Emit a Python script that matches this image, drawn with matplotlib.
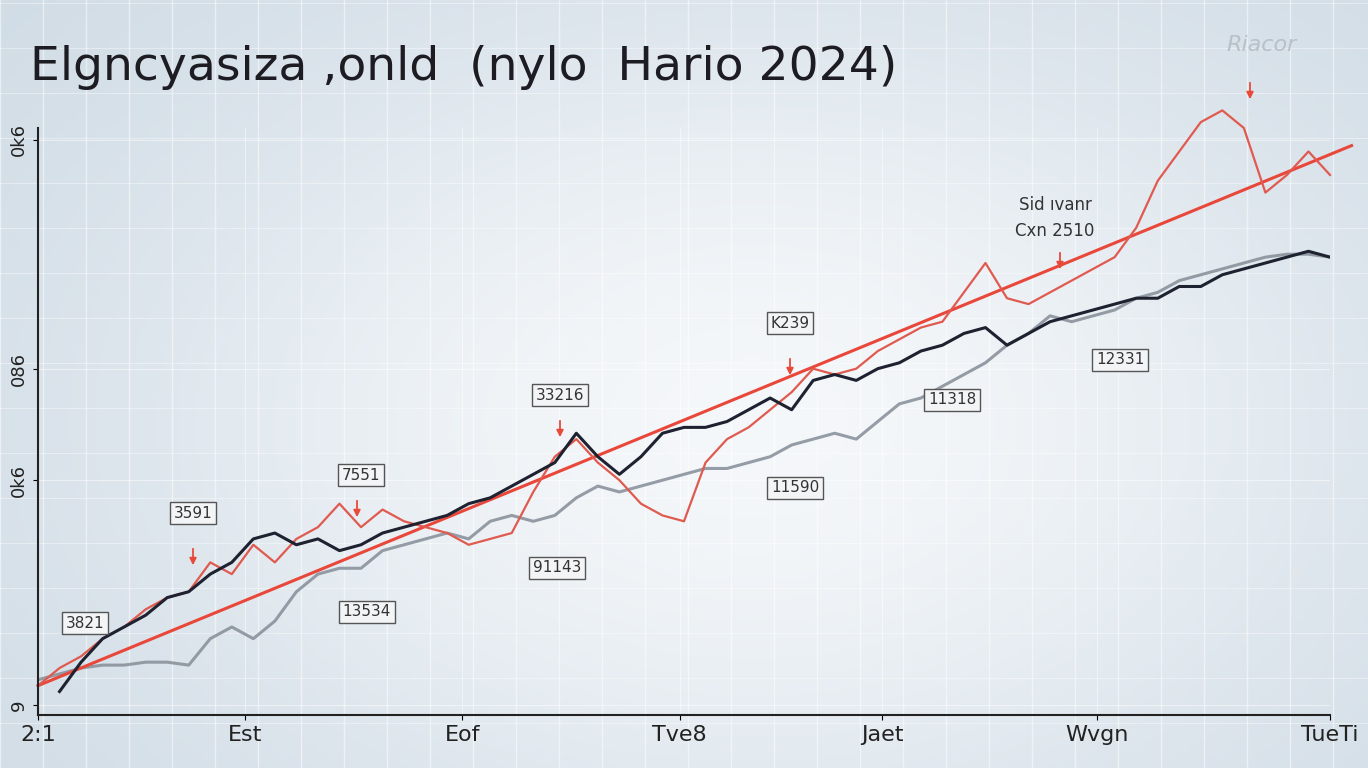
import numpy as np
import matplotlib
matplotlib.use("Agg")
import matplotlib.pyplot as plt

x_ticks_pos = [0, 9.6, 19.7, 29.8, 39.2, 49.2, 60]
x_tick_labels = ["2:1", "Est", "Eof", "Tve8", "Jaet", "Wvgn", "TueTi"]
y_ticks_pos = [1.7, 40, 59, 98]
y_tick_labels = ["9", "0k6", "086", "0k6"]

red = [5, 8, 10, 13, 15, 18, 20, 21, 26, 24, 29, 26, 30, 32, 36, 32, 35, 33, 32, 31,
       29, 30, 31, 38, 44, 47, 43, 40, 36, 34, 33, 43, 47, 49, 52, 55, 59, 58, 59, 62,
       64, 66, 67, 72, 77, 71, 70, 72, 74, 76, 78, 83, 91, 96, 101, 103, 100, 89, 92, 96, 92]
black = [np.nan, 4, 9, 13, 15, 17, 20, 21, 24, 26, 30, 31, 29, 30, 28, 29, 31, 32, 33, 34,
         36, 37, 39, 41, 43, 48, 44, 41, 44, 48, 49, 49, 50, 52, 54, 52, 57, 58, 57, 59,
         60, 62, 63, 65, 66, 63, 65, 67, 68, 69, 70, 71, 71, 73, 73, 75, 76, 77, 78, 79, 78]
gray = [6, 7, 8, 8.5, 8.5, 9, 9, 8.5, 13, 15, 13, 16, 21, 24, 25, 25, 28, 29, 30, 31,
        30, 33, 34, 33, 34, 37, 39, 38, 39, 40, 41, 42, 42, 43, 44, 46, 47, 48, 47, 50,
        53, 54, 56, 58, 60, 63, 65, 68, 67, 68, 69, 71, 72, 74, 75, 76, 77, 78, 78.5, 78.5, 78]
trend_x = [0, 61]
trend_y = [5, 97]

W, H = 1368, 768
fig = plt.figure(figsize=(13.68, 7.68), dpi=100)

bg = fig.add_axes([0, 0, 1, 1])
gx = np.linspace(0, 1, 300)
gy = np.linspace(0, 1, 200)
GX, GY = np.meshgrid(gx, gy)
val = np.exp(-((GX - 0.55) ** 2 / 0.25 + (GY - 0.45) ** 2 / 0.35))
base = np.array([0.80, 0.85, 0.89])
light = np.array([0.96, 0.97, 0.98])
img = base[None, None, :] + (light - base)[None, None, :] * np.clip(val, 0, 1)[..., None]
bg.imshow(img, extent=[0, 1, 0, 1], aspect="auto", origin="lower")
for xv in np.arange(0, 1, 43 / W):
    bg.axvline(xv, color="white", lw=1.0, alpha=0.5)
for yv in np.arange(0, 1, 45 / H):
    bg.axhline(yv, color="white", lw=0.8, alpha=0.4)
bg.set_xlim(0, 1); bg.set_ylim(0, 1); bg.axis("off")

ax = fig.add_axes([38 / W, 1 - 715 / H, (1330 - 38) / W, (715 - 128) / H])
ax.patch.set_alpha(0)
xs = np.arange(len(red))
ax.plot(xs, gray, color="#8a929c", lw=2.2, alpha=0.9)
ax.plot(trend_x, trend_y, color="#e8473a", lw=2.2, clip_on=False)
ax.plot(xs, red, color="#e05a50", lw=1.6, clip_on=False)
ax.plot(xs, black, color="#1e2230", lw=2.2)
ax.set_xlim(0, 60)
ax.set_ylim(0, 100)
ax.set_xticks(x_ticks_pos)
ax.set_xticklabels(x_tick_labels, fontsize=16, color="#222")
ax.set_yticks(y_ticks_pos)
ax.set_yticklabels(y_tick_labels, fontsize=13, color="#222", rotation=90, va="center")
for s in ["top", "right"]:
    ax.spines[s].set_visible(False)
for s in ["left", "bottom"]:
    ax.spines[s].set_color("#222"); ax.spines[s].set_linewidth(1.5)
ax.grid(True, color="white", alpha=0.5)

fig.text(30 / W, 1 - 68 / H, "Elgncyasiza ,onld  (nylo  Hario 2024)", fontsize=34,
         fontweight="medium", color="#1c1c22", va="center")
fig.text(1262 / W, 1 - 45 / H, "Riacor", fontsize=16, color="#b8c0c8", ha="center",
         va="center", style="italic")

boxes = [(85, 623, "3821"), (193, 513, "3591"), (361, 475, "7551"), (560, 395, "33216"),
         (790, 323, "K239"), (367, 612, "13534"), (557, 568, "91143"), (795, 488, "11590"),
         (952, 400, "11318"), (1120, 360, "12331")]
for bx, by, t in boxes:
    fig.text(bx / W, 1 - by / H, t, fontsize=11, ha="center", va="center", color="#333",
             bbox=dict(boxstyle="square,pad=0.25", fc="#f2f4f6", ec="#555", lw=1))
arrows = [(193, 568), (357, 520), (560, 440), (790, 378), (1060, 272), (1250, 102)]
for axx, ayy in arrows:
    fig.add_artist(matplotlib.patches.FancyArrowPatch(
        (axx / W, 1 - (ayy - 22) / H), (axx / W, 1 - ayy / H), transform=fig.transFigure,
        arrowstyle="-|>", mutation_scale=10, color="#e84a3a", lw=1.3))
fig.text(1055 / W, 1 - 218 / H, "Sid ıvanr\nCxn 2510", fontsize=12, ha="center",
         va="center", color="#333", linespacing=1.5)

fig.savefig("out.png", dpi=100)
